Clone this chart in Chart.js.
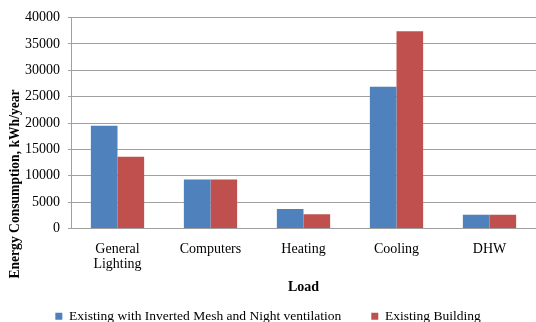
<!DOCTYPE html>
<html>
<head>
<meta charset="utf-8">
<script src="https://cdn.jsdelivr.net/npm/chart.js@4.4.0/dist/chart.umd.min.js"></script>
<style>
  html,body{margin:0;padding:0;background:#fff;}
  #wrap{width:536px;height:322px;}
</style>
</head>
<body>
<div id="wrap"><canvas id="chart" width="536" height="322"></canvas></div>
<script>
const loads = [["General","Lighting"], "Computers", "Heating", "Cooling", "DHW"];
const withMesh = [19500, 9300, 3700, 26900, 2600];
const existing = [13600, 9300, 2700, 37400, 2600];
const seriesNames = ["Existing with Inverted Mesh and Night ventilation", "Existing Building"];
const yTitle = "Energy Consumption, kWh/year";

const serif = "'Liberation Serif','Times New Roman',serif";
const gridGray = "#a0a0a0";

// vertical axis title, centred on the full canvas height rather than the plot
const sideTitle = {
  id:'sideTitle',
  afterDraw(chart){
    const c = chart.ctx;
    c.save();
    c.translate(15, 184);
    c.rotate(-Math.PI/2);
    c.font = "bold 13.6px " + serif;
    c.fillStyle = "#000";
    c.textAlign = "center";
    c.textBaseline = "middle";
    c.fillText(yTitle, 0, 0);
    c.restore();
  }
};

new Chart(document.getElementById('chart').getContext('2d'), {
  type:'bar',
  data:{
    labels: loads,
    datasets:[
      {label:seriesNames[0], data:withMesh, backgroundColor:'#4F81BD'},
      {label:seriesNames[1], data:existing, backgroundColor:'#C0504D'}
    ]
  },
  options:{
    responsive:false,
    animation:false,
    // legend sits partly below the canvas edge, pulled down with a negative pad
    layout:{padding:{left:0, right:0, top:17.6, bottom:-11}},
    datasets:{bar:{categoryPercentage:0.573, barPercentage:1}},
    scales:{
      x:{
        grid:{display:false, drawTicks:false},
        border:{display:true, color:gridGray, width:1},
        ticks:{color:'#000', font:{family:serif, size:14, lineHeight:1.07}, padding:13, maxRotation:0},
        title:{display:true, text:'Load', color:'#000', font:{family:serif, size:14, weight:'bold'}, padding:{top:-5.4, bottom:-16.4}}
      },
      y:{
        min:0, max:40000,
        afterFit(s){ s.width = 71; },  // room for the rotated title on the left
        ticks:{stepSize:5000, color:'#000', font:{family:serif, size:14}, padding:8, callback:v=>String(v)},
        grid:{color:gridGray, tickLength:3, lineWidth:1},
        border:{display:true, color:gridGray, width:1}
      }
    },
    plugins:{
      legend:{
        position:'bottom',
        labels:{boxWidth:7, boxHeight:7, padding:30, color:'#000', font:{family:serif, size:13.5}}
      },
      tooltip:{enabled:false}
    }
  },
  plugins:[sideTitle]
});
</script>
</body>
</html>
